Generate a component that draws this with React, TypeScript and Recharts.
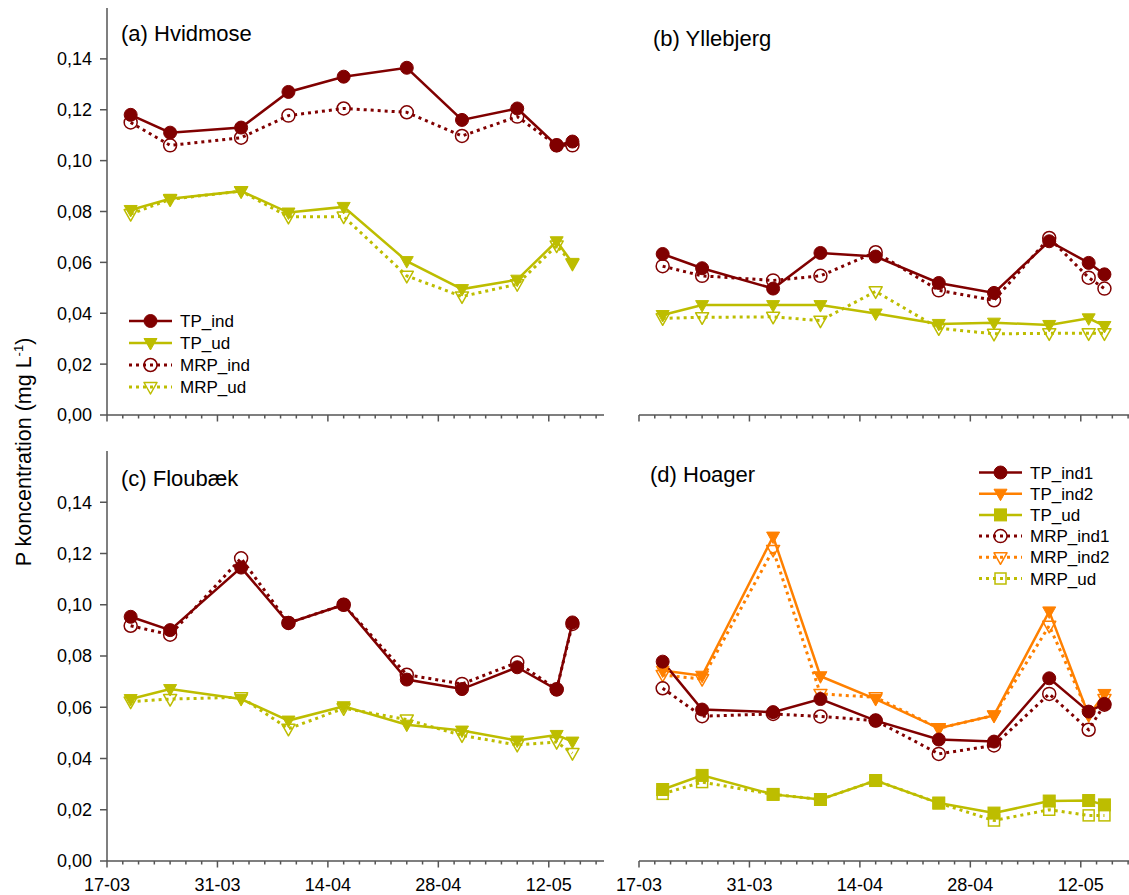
import React from "react";
import { LineChart, Line, XAxis, YAxis } from "recharts";

// sampling dates, as days after 17-03
const sampleDays = [3, 8, 17, 23, 30, 38, 45, 52, 57, 59];
const allTickDays = [0, 2, 4, 6, 8, 10, 12, 14, 16, 18, 20, 22, 24, 26, 28, 30, 32, 34, 36, 38, 40, 42, 44, 46, 48, 50, 52, 54, 56, 58, 60, 62];
const majorTickDays = [0, 14, 28, 42, 56];
const majorTickLabels = ["17-03", "31-03", "14-04", "28-04", "12-05"];
const yTicks = [0, 0.02, 0.04, 0.06, 0.08, 0.1, 0.12, 0.14];

// (a) Hvidmose
const hvTPind = [0.118, 0.111, 0.113, 0.127, 0.133, 0.1365, 0.116, 0.1205, 0.106, 0.1075];
const hvTPud = [0.0806, 0.085, 0.088, 0.0796, 0.0818, 0.0605, 0.0495, 0.0532, 0.0683, 0.0598];
const hvMRPind = [0.115, 0.106, 0.109, 0.1177, 0.1205, 0.119, 0.1097, 0.1173, 0.106, 0.106];
const hvMRPud = [0.079, 0.0848, 0.088, 0.0779, 0.078, 0.0547, 0.0466, 0.0514, 0.0666, 0.0595];

// (b) Yllebjerg
const ylTPind = [0.0633, 0.0577, 0.0497, 0.0637, 0.0623, 0.0519, 0.048, 0.0683, 0.0598, 0.0553];
const ylTPud = [0.0393, 0.0432, 0.0432, 0.0432, 0.0399, 0.0358, 0.0363, 0.0354, 0.038, 0.035];
const ylMRPind = [0.0585, 0.0547, 0.0529, 0.0547, 0.064, 0.049, 0.0451, 0.0696, 0.054, 0.0497];
const ylMRPud = [0.038, 0.0384, 0.0386, 0.0371, 0.0486, 0.0341, 0.0319, 0.0321, 0.0321, 0.0321];

// (c) Floubæk
const flTPind = [0.0953, 0.0901, 0.1145, 0.0929, 0.1, 0.0708, 0.0671, 0.0756, 0.0669, 0.0931];
const flTPud = [0.0632, 0.0671, 0.0632, 0.0548, 0.0604, 0.0532, 0.0509, 0.047, 0.0492, 0.0466];
const flMRPind = [0.0918, 0.0883, 0.1181, 0.0929, 0.1, 0.0727, 0.0691, 0.0775, 0.067, 0.0925];
const flMRPud = [0.0622, 0.0632, 0.0639, 0.0516, 0.0596, 0.0552, 0.049, 0.0453, 0.0464, 0.0421];

// (d) Hoager
const hoTPind1 = [0.0778, 0.0591, 0.0581, 0.0632, 0.0548, 0.0474, 0.0466, 0.0713, 0.0583, 0.0613];
const hoTPind2 = [0.0743, 0.0723, 0.1266, 0.0721, 0.0632, 0.0518, 0.0568, 0.0974, 0.0568, 0.0652];
const hoTPud = [0.0279, 0.0334, 0.026, 0.024, 0.0314, 0.0226, 0.0187, 0.0234, 0.0236, 0.0219];
const hoMRPind1 = [0.0674, 0.0565, 0.0574, 0.0564, 0.0548, 0.0418, 0.0451, 0.0652, 0.0512, 0.061];
const hoMRPind2 = [0.0726, 0.071, 0.1214, 0.0652, 0.0639, 0.0518, 0.0568, 0.0918, 0.0574, 0.0632];
const hoMRPud = [0.0262, 0.0308, 0.026, 0.024, 0.0314, 0.0226, 0.0158, 0.02, 0.0178, 0.0178];

const DARKRED = "#800000";
const OLIVE = "#BDBD00";
const ORANGE = "#FF8000";
const AXIS = "#555555";
const FONT = "'Liberation Sans', Arial, sans-serif";

type MarkerKind = "circle" | "circleOpen" | "tri" | "triOpen" | "square" | "squareOpen";

interface Series {
  key: string;
  name: string;
  values: number[];
  color: string;
  dashed: boolean;
  marker: MarkerKind;
}

function Marker({ kind, cx, cy, color }: { kind: MarkerKind; cx: number; cy: number; color: string }) {
  const open = kind.endsWith("Open");
  const fill = open ? "none" : color;
  const sw = open ? 1.5 : 1;
  if (kind === "circle" || kind === "circleOpen") {
    return <circle cx={cx} cy={cy} r={6.5} fill={fill} stroke={color} strokeWidth={sw} />;
  }
  if (kind === "tri" || kind === "triOpen") {
    return (
      <path
        d={`M${cx - 6.5},${cy - 4.5}L${cx + 6.5},${cy - 4.5}L${cx},${cy + 7}Z`}
        fill={fill}
        stroke={color}
        strokeWidth={sw}
        strokeLinejoin="round"
      />
    );
  }
  const h = open ? 5.5 : 6;
  return <rect x={cx - h} y={cy - h} width={h * 2} height={h * 2} fill={fill} stroke={color} strokeWidth={sw} />;
}

function makeDateTick(showLabel: boolean) {
  return (props: any) => {
    const { x, y, payload } = props;
    const idx = majorTickDays.indexOf(payload.value);
    const major = idx >= 0;
    return (
      <g>
        <line x1={x} x2={x} y1={y} y2={y + (major ? 6.5 : 3.5)} stroke={AXIS} strokeWidth={1.5} />
        {showLabel && major && (
          <text x={x} y={y + 30} textAnchor="middle" fontSize={18} fill="#000">
            {majorTickLabels[idx]}
          </text>
        )}
      </g>
    );
  };
}

interface PanelProps {
  left: number;
  top: number;
  plotTop: number;
  plotHeight: number;
  xAxisHeight: number;
  yLabels: boolean;
  xLabels: boolean;
  series: Series[];
}

function Panel({ left, top, plotTop, plotHeight, xAxisHeight, yLabels, xLabels, series }: PanelProps) {
  const data = sampleDays.map((d, i) => {
    const row: Record<string, number> = { day: d };
    series.forEach((s) => {
      row[s.key] = s.values[i];
    });
    return row;
  });
  const width = 614;
  const height = plotTop + plotHeight + xAxisHeight;
  const axisLine = { stroke: AXIS, strokeWidth: 1.5 };
  return (
    <div style={{ position: "absolute", left, top }}>
      <LineChart
        width={width}
        height={height}
        data={data}
        margin={{ top: plotTop, right: 10, bottom: 0, left: yLabels ? 0 : 107 }}
      >
        <XAxis
          type="number"
          dataKey="day"
          domain={[0, 63]}
          ticks={allTickDays}
          interval={0}
          tickLine={false}
          tickSize={0}
          tickMargin={0}
          height={xAxisHeight}
          tick={makeDateTick(xLabels)}
          axisLine={axisLine}
        />
        <XAxis
          xAxisId="top"
          orientation="top"
          type="number"
          dataKey="day"
          domain={[0, 63]}
          height={0}
          tick={false}
          tickLine={false}
          axisLine={axisLine}
        />
        {yLabels ? (
          <YAxis
            domain={[0, 0.16]}
            ticks={yTicks}
            width={107}
            tickSize={7}
            tickMargin={8}
            tickFormatter={(v: number) => v.toFixed(2).replace(".", ",")}
            tick={{ fontSize: 18, fill: "#000" }}
            tickLine={axisLine}
            axisLine={axisLine}
          />
        ) : (
          <YAxis
            domain={[0, 0.16]}
            ticks={yTicks}
            width={0}
            mirror
            tickSize={6}
            tickFormatter={() => ""}
            tickLine={axisLine}
            axisLine={axisLine}
          />
        )}
        <YAxis
          yAxisId="right"
          orientation="right"
          domain={[0, 0.16]}
          width={0}
          tick={false}
          tickLine={false}
          axisLine={axisLine}
        />
        {series.map((s) => (
          <Line
            key={s.key}
            dataKey={s.key}
            name={s.name}
            type="linear"
            stroke={s.color}
            strokeWidth={s.dashed ? 3 : 2.5}
            strokeDasharray={s.dashed ? "3 4" : undefined}
            dot={(p: any) => <Marker key={`${s.key}-${p.index}`} kind={s.marker} cx={p.cx} cy={p.cy} color={s.color} />}
            activeDot={false}
            isAnimationActive={false}
          />
        ))}
      </LineChart>
    </div>
  );
}

const seriesA: Series[] = [
  { key: "mrpUd", name: "MRP_ud", values: hvMRPud, color: OLIVE, dashed: true, marker: "triOpen" },
  { key: "mrpInd", name: "MRP_ind", values: hvMRPind, color: DARKRED, dashed: true, marker: "circleOpen" },
  { key: "tpUd", name: "TP_ud", values: hvTPud, color: OLIVE, dashed: false, marker: "tri" },
  { key: "tpInd", name: "TP_ind", values: hvTPind, color: DARKRED, dashed: false, marker: "circle" },
];
const seriesB: Series[] = [
  { key: "mrpUd", name: "MRP_ud", values: ylMRPud, color: OLIVE, dashed: true, marker: "triOpen" },
  { key: "mrpInd", name: "MRP_ind", values: ylMRPind, color: DARKRED, dashed: true, marker: "circleOpen" },
  { key: "tpUd", name: "TP_ud", values: ylTPud, color: OLIVE, dashed: false, marker: "tri" },
  { key: "tpInd", name: "TP_ind", values: ylTPind, color: DARKRED, dashed: false, marker: "circle" },
];
const seriesC: Series[] = [
  { key: "mrpUd", name: "MRP_ud", values: flMRPud, color: OLIVE, dashed: true, marker: "triOpen" },
  { key: "mrpInd", name: "MRP_ind", values: flMRPind, color: DARKRED, dashed: true, marker: "circleOpen" },
  { key: "tpUd", name: "TP_ud", values: flTPud, color: OLIVE, dashed: false, marker: "tri" },
  { key: "tpInd", name: "TP_ind", values: flTPind, color: DARKRED, dashed: false, marker: "circle" },
];
const seriesD: Series[] = [
  { key: "mrpUd", name: "MRP_ud", values: hoMRPud, color: OLIVE, dashed: true, marker: "squareOpen" },
  { key: "mrpInd2", name: "MRP_ind2", values: hoMRPind2, color: ORANGE, dashed: true, marker: "triOpen" },
  { key: "mrpInd1", name: "MRP_ind1", values: hoMRPind1, color: DARKRED, dashed: true, marker: "circleOpen" },
  { key: "tpUd", name: "TP_ud", values: hoTPud, color: OLIVE, dashed: false, marker: "square" },
  { key: "tpInd2", name: "TP_ind2", values: hoTPind2, color: ORANGE, dashed: false, marker: "tri" },
  { key: "tpInd1", name: "TP_ind1", values: hoTPind1, color: DARKRED, dashed: false, marker: "circle" },
];

const legendOrderA = ["tpInd", "tpUd", "mrpInd", "mrpUd"];
const legendOrderD = ["tpInd1", "tpInd2", "tpUd", "mrpInd1", "mrpInd2", "mrpUd"];

function LegendBlock({ series, order, x, y, step }: { series: Series[]; order: string[]; x: number; y: number; step: number }) {
  return (
    <g>
      {order.map((k, i) => {
        const s = series.find((e) => e.key === k)!;
        const cy = y + i * step;
        return (
          <g key={k}>
            <line
              x1={x}
              x2={x + 43}
              y1={cy}
              y2={cy}
              stroke={s.color}
              strokeWidth={s.dashed ? 3 : 2.5}
              strokeDasharray={s.dashed ? "3 4" : undefined}
            />
            <Marker kind={s.marker} cx={x + 21.5} cy={cy} color={s.color} />
            <text x={x + 51} y={cy + 6} fontSize={17} fill="#000">
              {s.name}
            </text>
          </g>
        );
      })}
    </g>
  );
}

export default function App() {
  return (
    <div
      style={{
        position: "absolute",
        left: 0,
        top: 0,
        width: 1129,
        height: 895,
        overflow: "hidden",
        background: "#fff",
        fontFamily: FONT,
      }}
    >
      <Panel left={0} top={0} plotTop={8} plotHeight={407} xAxisHeight={30} yLabels xLabels={false} series={seriesA} />
      <Panel left={532} top={0} plotTop={8} plotHeight={407} xAxisHeight={30} yLabels={false} xLabels={false} series={seriesB} />
      <Panel left={0} top={443} plotTop={8} plotHeight={410} xAxisHeight={34} yLabels xLabels series={seriesC} />
      <Panel left={532} top={443} plotTop={8} plotHeight={410} xAxisHeight={34} yLabels={false} xLabels series={seriesD} />
      <svg
        width={1129}
        height={895}
        style={{ position: "absolute", left: 0, top: 0, pointerEvents: "none", fontFamily: FONT }}
      >
        <text x={121} y={40.5} fontSize={22} fill="#000">(a) Hvidmose</text>
        <text x={653} y={45.5} fontSize={22} fill="#000">(b) Yllebjerg</text>
        <text x={121} y={485.5} fontSize={22} fill="#000">(c) Floubæk</text>
        <text x={650} y={481.5} fontSize={22} fill="#000">(d) Hoager</text>
        <LegendBlock series={seriesA} order={legendOrderA} x={129} y={321} step={22} />
        <LegendBlock series={seriesD} order={legendOrderD} x={979} y={472.5} step={21.2} />
        <text
          transform="translate(31,452) rotate(-90)"
          textAnchor="middle"
          fontSize={21.5}
          fill="#000"
        >
          P koncentration (mg L
          <tspan fontSize={13} dy={-8}>-1</tspan>
          <tspan dy={8}>)</tspan>
        </text>
      </svg>
    </div>
  );
}
